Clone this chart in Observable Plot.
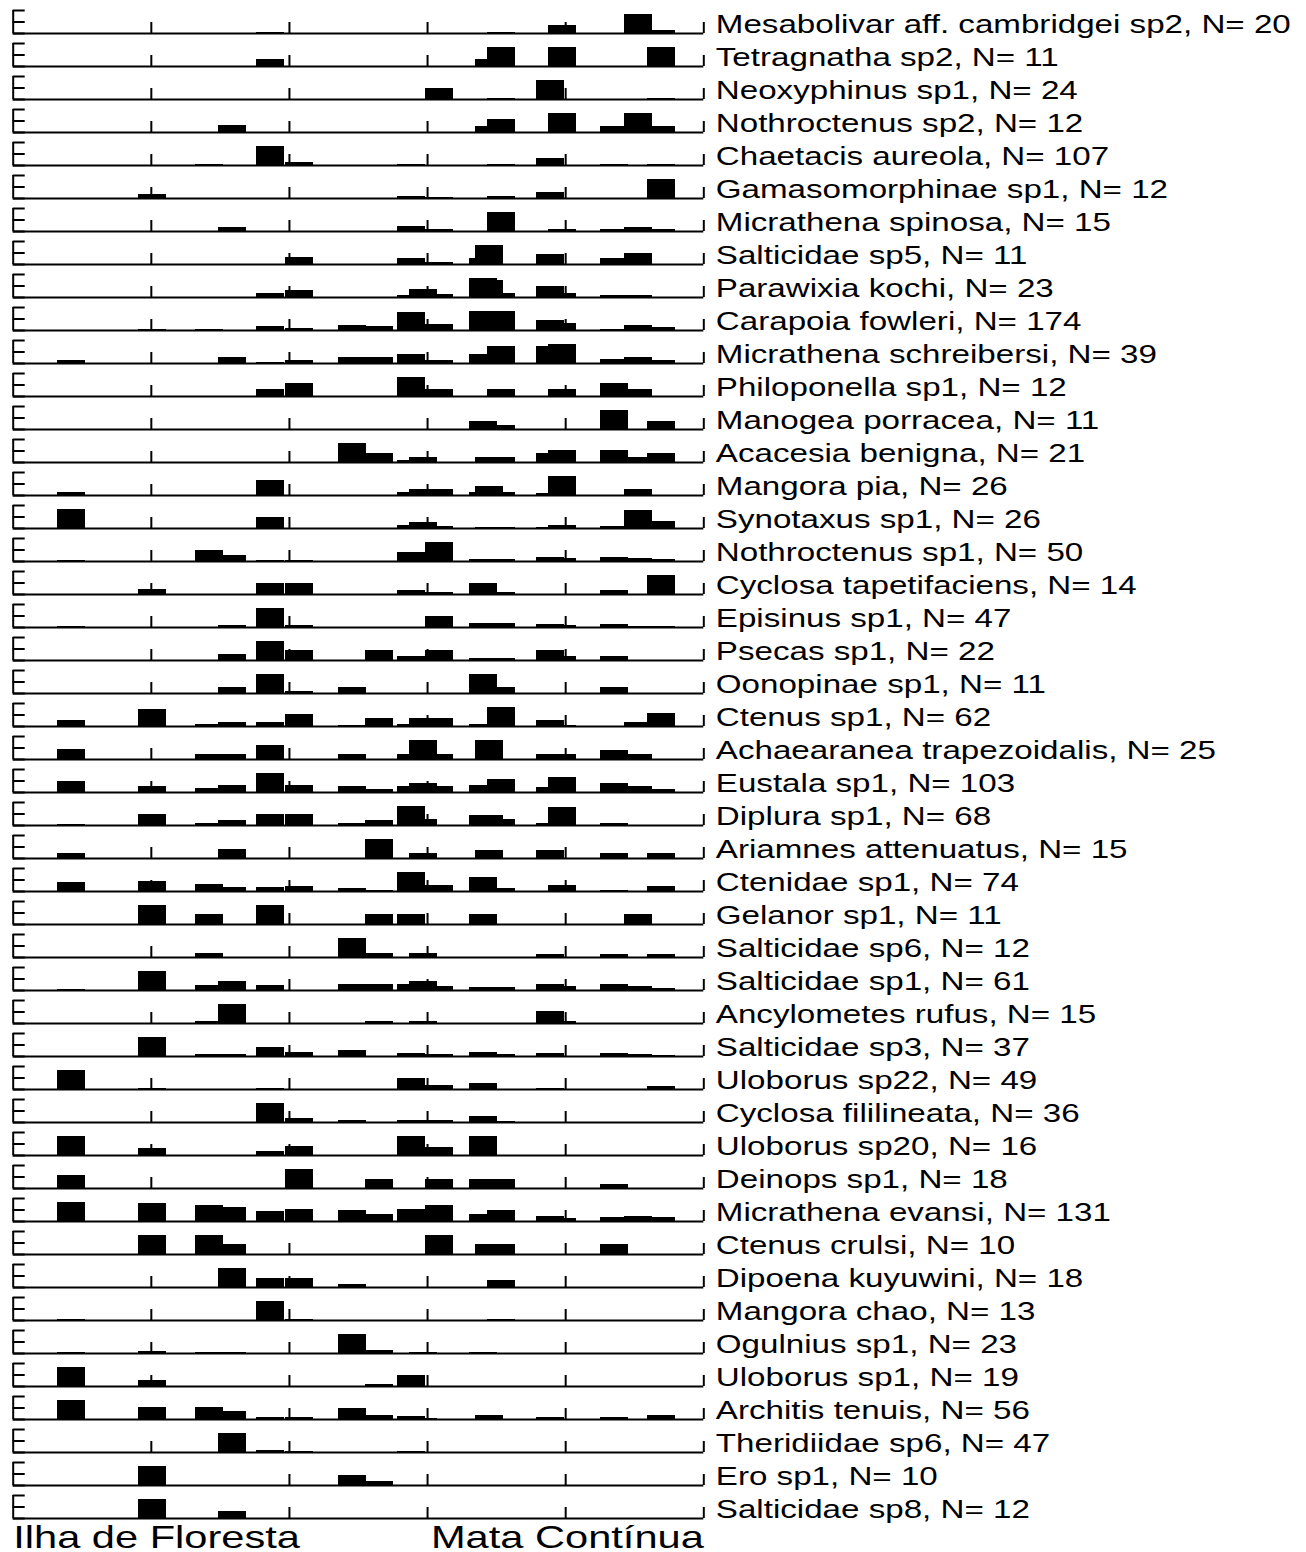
<!DOCTYPE html>
<html><head><meta charset="utf-8">
<script src="https://cdn.jsdelivr.net/npm/d3@7"></script>
<script src="https://cdn.jsdelivr.net/npm/@observablehq/plot@0.6"></script>
<style>html,body{margin:0;padding:0;background:#fff;} #chart{width:1306px;}</style>
</head><body><div id="chart"></div>
<script>
const species = [
  "Mesabolivar aff. cambridgei sp2","Tetragnatha sp2","Neoxyphinus sp1","Nothroctenus sp2",
  "Chaetacis aureola","Gamasomorphinae sp1","Micrathena spinosa","Salticidae sp5",
  "Parawixia kochi","Carapoia fowleri","Micrathena schreibersi","Philoponella sp1",
  "Manogea porracea","Acacesia benigna","Mangora pia","Synotaxus sp1",
  "Nothroctenus sp1","Cyclosa tapetifaciens","Episinus sp1","Psecas sp1",
  "Oonopinae sp1","Ctenus sp1","Achaearanea trapezoidalis","Eustala sp1",
  "Diplura sp1","Ariamnes attenuatus","Ctenidae sp1","Gelanor sp1",
  "Salticidae sp6","Salticidae sp1","Ancylometes rufus","Salticidae sp3",
  "Uloborus sp22","Cyclosa fililineata","Uloborus sp20","Deinops sp1",
  "Micrathena evansi","Ctenus crulsi","Dipoena kuyuwini","Mangora chao",
  "Ogulnius sp1","Uloborus sp1","Architis tenuis","Theridiidae sp6",
  "Ero sp1","Salticidae sp8"
];
const counts = [20,11,24,12,107,12,15,11,23,174,39,12,11,21,26,26,50,14,47,22,11,62,25,103,68,15,74,11,12,61,15,37,49,36,16,18,131,10,18,13,23,19,56,47,10,12];

// site positions along the gradient (axis 0–100)
const sitePositions = [8.44,20.17,28.42,31.75,37.26,41.46,49.13,53.04,57.67,59.41,61.73,68.10,68.97,70.71,77.80,79.54,87.07,90.54,93.87];
const xDomain = [0, 100];
const xTicks = [20, 40, 60, 80, 100];
const yDomain = [0, 1.2];
const yTicks = [0, 0.6, 1.2];
const gradientLabels = ["Ilha de Floresta", "Mata Contínua"];

// relative abundance per species (rows) and site (columns), 1 = species maximum
const abundance = [
  [0,0,0,0,.06,0,0,0,0,0,0,0,0,.07,0,.44,0,1,.18],
  [0,0,0,0,.37,0,0,0,0,0,0,0,.35,1,0,1,0,0,1],
  [0,0,0,0,0,0,0,0,0,0,.56,0,0,.06,1,0,0,0,.06],
  [0,0,0,.35,0,0,0,0,0,0,0,0,.33,.67,0,1,.33,1,.33],
  [0,0,.05,0,1,.15,0,0,.05,0,0,0,0,.05,.35,0,.04,0,.06],
  [0,.2,0,0,0,0,0,0,.12,0,.05,0,0,.08,.3,0,0,0,1],
  [0,0,0,.2,0,0,0,0,.25,0,.12,0,0,1,0,.1,.12,.2,.08],
  [0,0,0,0,0,.35,0,0,.3,0,.08,.3,1,0,.5,0,.3,.6,0],
  [0,0,0,0,.2,.35,0,0,.1,.4,.15,1,.9,.2,.55,.2,.08,.08,0],
  [0,.05,.05,0,.22,.08,.25,.2,.93,0,.3,1,0,1,.5,.35,.05,.25,.17],
  [.18,0,0,.33,.05,.15,.33,.33,.47,0,.17,.47,0,.9,.9,1,.2,.33,.15],
  [0,0,0,0,.35,.67,0,0,1,0,.35,0,0,.35,0,.35,.67,.35,0],
  [0,0,0,0,0,0,0,0,0,0,0,.4,0,.22,0,0,1,0,.4],
  [0,0,0,0,0,0,1,.45,.08,.25,0,0,.25,.25,.45,.63,.63,.25,.45],
  [.18,0,0,0,.78,0,0,0,.18,.33,.33,.18,.45,.18,.1,1,0,.3,0],
  [1,0,0,0,.55,0,0,0,.15,.3,.12,0,.07,.07,.07,.15,.1,.95,.35],
  [.05,0,.6,.3,.05,.05,0,0,.45,0,1,.1,0,.1,.2,.15,.2,.15,.08],
  [0,.25,0,0,.55,.55,0,0,.2,0,.1,.55,0,.1,0,0,.2,0,1],
  [.05,0,0,.08,1,.1,0,0,0,0,.6,.2,.2,.2,.15,.1,.15,.05,.05],
  [0,0,0,.3,1,.5,0,.5,.2,0,.5,.1,0,.1,.5,.2,.2,0,0],
  [0,0,0,.3,1,.1,.3,0,0,0,0,1,0,.3,0,0,.3,0,0],
  [.32,.9,.1,.22,.22,.62,.05,.42,.1,.42,.42,.1,0,1,.32,.05,0,.2,.7],
  [.5,0,.26,.26,.75,0,.26,0,.26,1,.26,0,1,0,.26,.26,.48,.26,0],
  [.56,.3,.2,.37,1,.37,.3,.16,.3,.45,.3,.37,0,.68,.25,.77,.45,.3,.16],
  [.05,.6,.1,.26,.55,.55,.08,.26,1,.33,0,.5,.5,.3,.1,.95,.1,0,0],
  [.25,0,0,.45,0,0,0,1,0,.25,0,0,.42,0,.42,0,.25,0,.25],
  [.45,.52,.38,.2,.2,.26,.18,.05,1,0,.3,.74,0,.18,0,.3,.05,0,.24],
  [0,1,.5,0,1,0,0,.5,.5,0,0,.5,0,0,0,0,0,.5,0],
  [0,0,.2,0,0,0,1,.2,0,.2,0,0,0,0,.15,0,.15,0,.15],
  [.05,1,.25,.45,.25,0,.3,.3,.3,.45,.2,.15,0,.15,.3,.2,.3,.2,.08],
  [0,0,.1,1,0,0,0,.12,0,.12,0,0,0,0,.65,.1,0,0,0],
  [0,1,.08,.08,.45,.2,.3,0,.15,0,.08,.2,0,.08,.15,0,.15,.1,.05],
  [1,.05,0,0,.05,0,0,0,.6,0,.2,.3,0,0,.05,0,0,0,.15],
  [0,0,0,0,1,.2,.08,0,.08,0,.12,.3,0,.05,0,0,0,0,0],
  [1,.35,0,0,.2,.45,0,0,1,0,.4,1,0,0,0,0,0,0,0],
  [.7,0,0,0,0,1,0,.45,0,0,.45,.45,0,.45,0,0,.2,0,0],
  [1,.93,.86,.71,.5,.64,.56,.37,.64,0,.86,.37,0,.56,.27,.15,.2,.27,.2],
  [0,1,1,.5,0,0,0,0,0,0,1,0,.5,.5,0,0,.5,0,0],
  [0,0,0,1,.45,.45,.18,0,0,0,0,0,0,.35,0,0,0,0,0],
  [.05,0,0,0,1,.05,0,0,0,0,0,0,0,.05,0,0,0,0,0],
  [.05,.12,.05,.05,0,0,1,.15,0,.05,0,.05,0,0,0,0,0,0,0],
  [1,.3,0,0,0,0,0,.1,.6,0,0,0,0,0,0,0,0,0,0],
  [1,.63,.63,.42,.1,.1,.55,.22,.15,.05,0,0,.22,0,.12,0,.12,0,.22],
  [0,0,0,1,.12,.05,0,0,.03,0,0,0,0,0,0,0,0,0,0],
  [0,1,0,0,0,0,.5,.2,0,0,0,0,0,0,0,0,0,0,0],
  [0,1,0,.35,0,0,0,0,0,0,0,0,0,0,0,0,0,0,0]
];

// ---- layout constants ----
const W = 1306, ROW = 33, MB = 34;
const ML = 12.7, MR = W - 703.3;
const BAR_W = 4.05;       // bar width in axis units (~28 px)
const STRETCH = 1.3;      // horizontal text stretch of the reference

const bars = [];
species.forEach((sp, i) => abundance[i].forEach((v, j) => {
  if (v > 0) bars.push({sp, x: sitePositions[j], v});
}));
const labelRows = species.map((sp, i) => ({sp, label: `${sp}, N= ${counts[i]}`}));
const lastSp = species[species.length - 1];

const plot = Plot.plot({
  width: W,
  height: species.length * ROW + MB,
  marginTop: 0, marginBottom: MB, marginLeft: ML, marginRight: MR,
  style: {fontFamily: '"Liberation Sans", Arial, Helvetica, sans-serif', background: "white", color: "black", overflow: "visible"},
  x: {domain: xDomain, axis: null},
  y: {domain: yDomain, range: [ROW, 10], axis: null},
  fy: {domain: species, padding: 0, axis: null},
  marks: [
    Plot.rect(bars, {fy: "sp", x1: d => d.x - BAR_W / 2, x2: d => d.x + BAR_W / 2, y1: 0, y2: "v", fill: "black", shapeRendering: "crispEdges"}),
    Plot.ruleY([0], {stroke: "black", strokeWidth: 2}),
    Plot.ruleX(xTicks, {y1: 0, y2: 0, insetBottom: 11, stroke: "black", strokeWidth: 2}),
    Plot.ruleX([xDomain[0]], {y1: yDomain[0], y2: yDomain[1], stroke: "black", strokeWidth: 2}),
    Plot.ruleY(yTicks, {x1: xDomain[0], x2: xDomain[0], insetRight: -12, stroke: "black", strokeWidth: 2}),
    Plot.text(labelRows, {fy: "sp", x: () => xDomain[1], y: () => 0, text: "label", textAnchor: "start", lineAnchor: "bottom", dx: 12, dy: -1, fontSize: 25.5, fill: "black"}),
    Plot.text([{sp: lastSp, label: gradientLabels[0]}], {fy: "sp", x: () => xDomain[0], y: () => 0, text: "label", textAnchor: "start", lineAnchor: "bottom", dx: 0, dy: 29, fontSize: 32, fill: "black"}),
    Plot.text([{sp: lastSp, label: gradientLabels[1]}], {fy: "sp", x: () => xDomain[1], y: () => 0, text: "label", textAnchor: "end", lineAnchor: "bottom", dx: 0, dy: 29, fontSize: 32, fill: "black"})
  ]
});

// reproduce the horizontally stretched lettering of the reference
plot.querySelectorAll("text").forEach(t => {
  const x = parseFloat(t.getAttribute("x")) || 0;
  const tr = t.getAttribute("transform") || "";
  t.setAttribute("transform", `${tr} translate(${x},0) scale(${STRETCH},1) translate(${-x},0)`);
});

document.getElementById("chart").appendChild(plot);
</script>
</body></html>
